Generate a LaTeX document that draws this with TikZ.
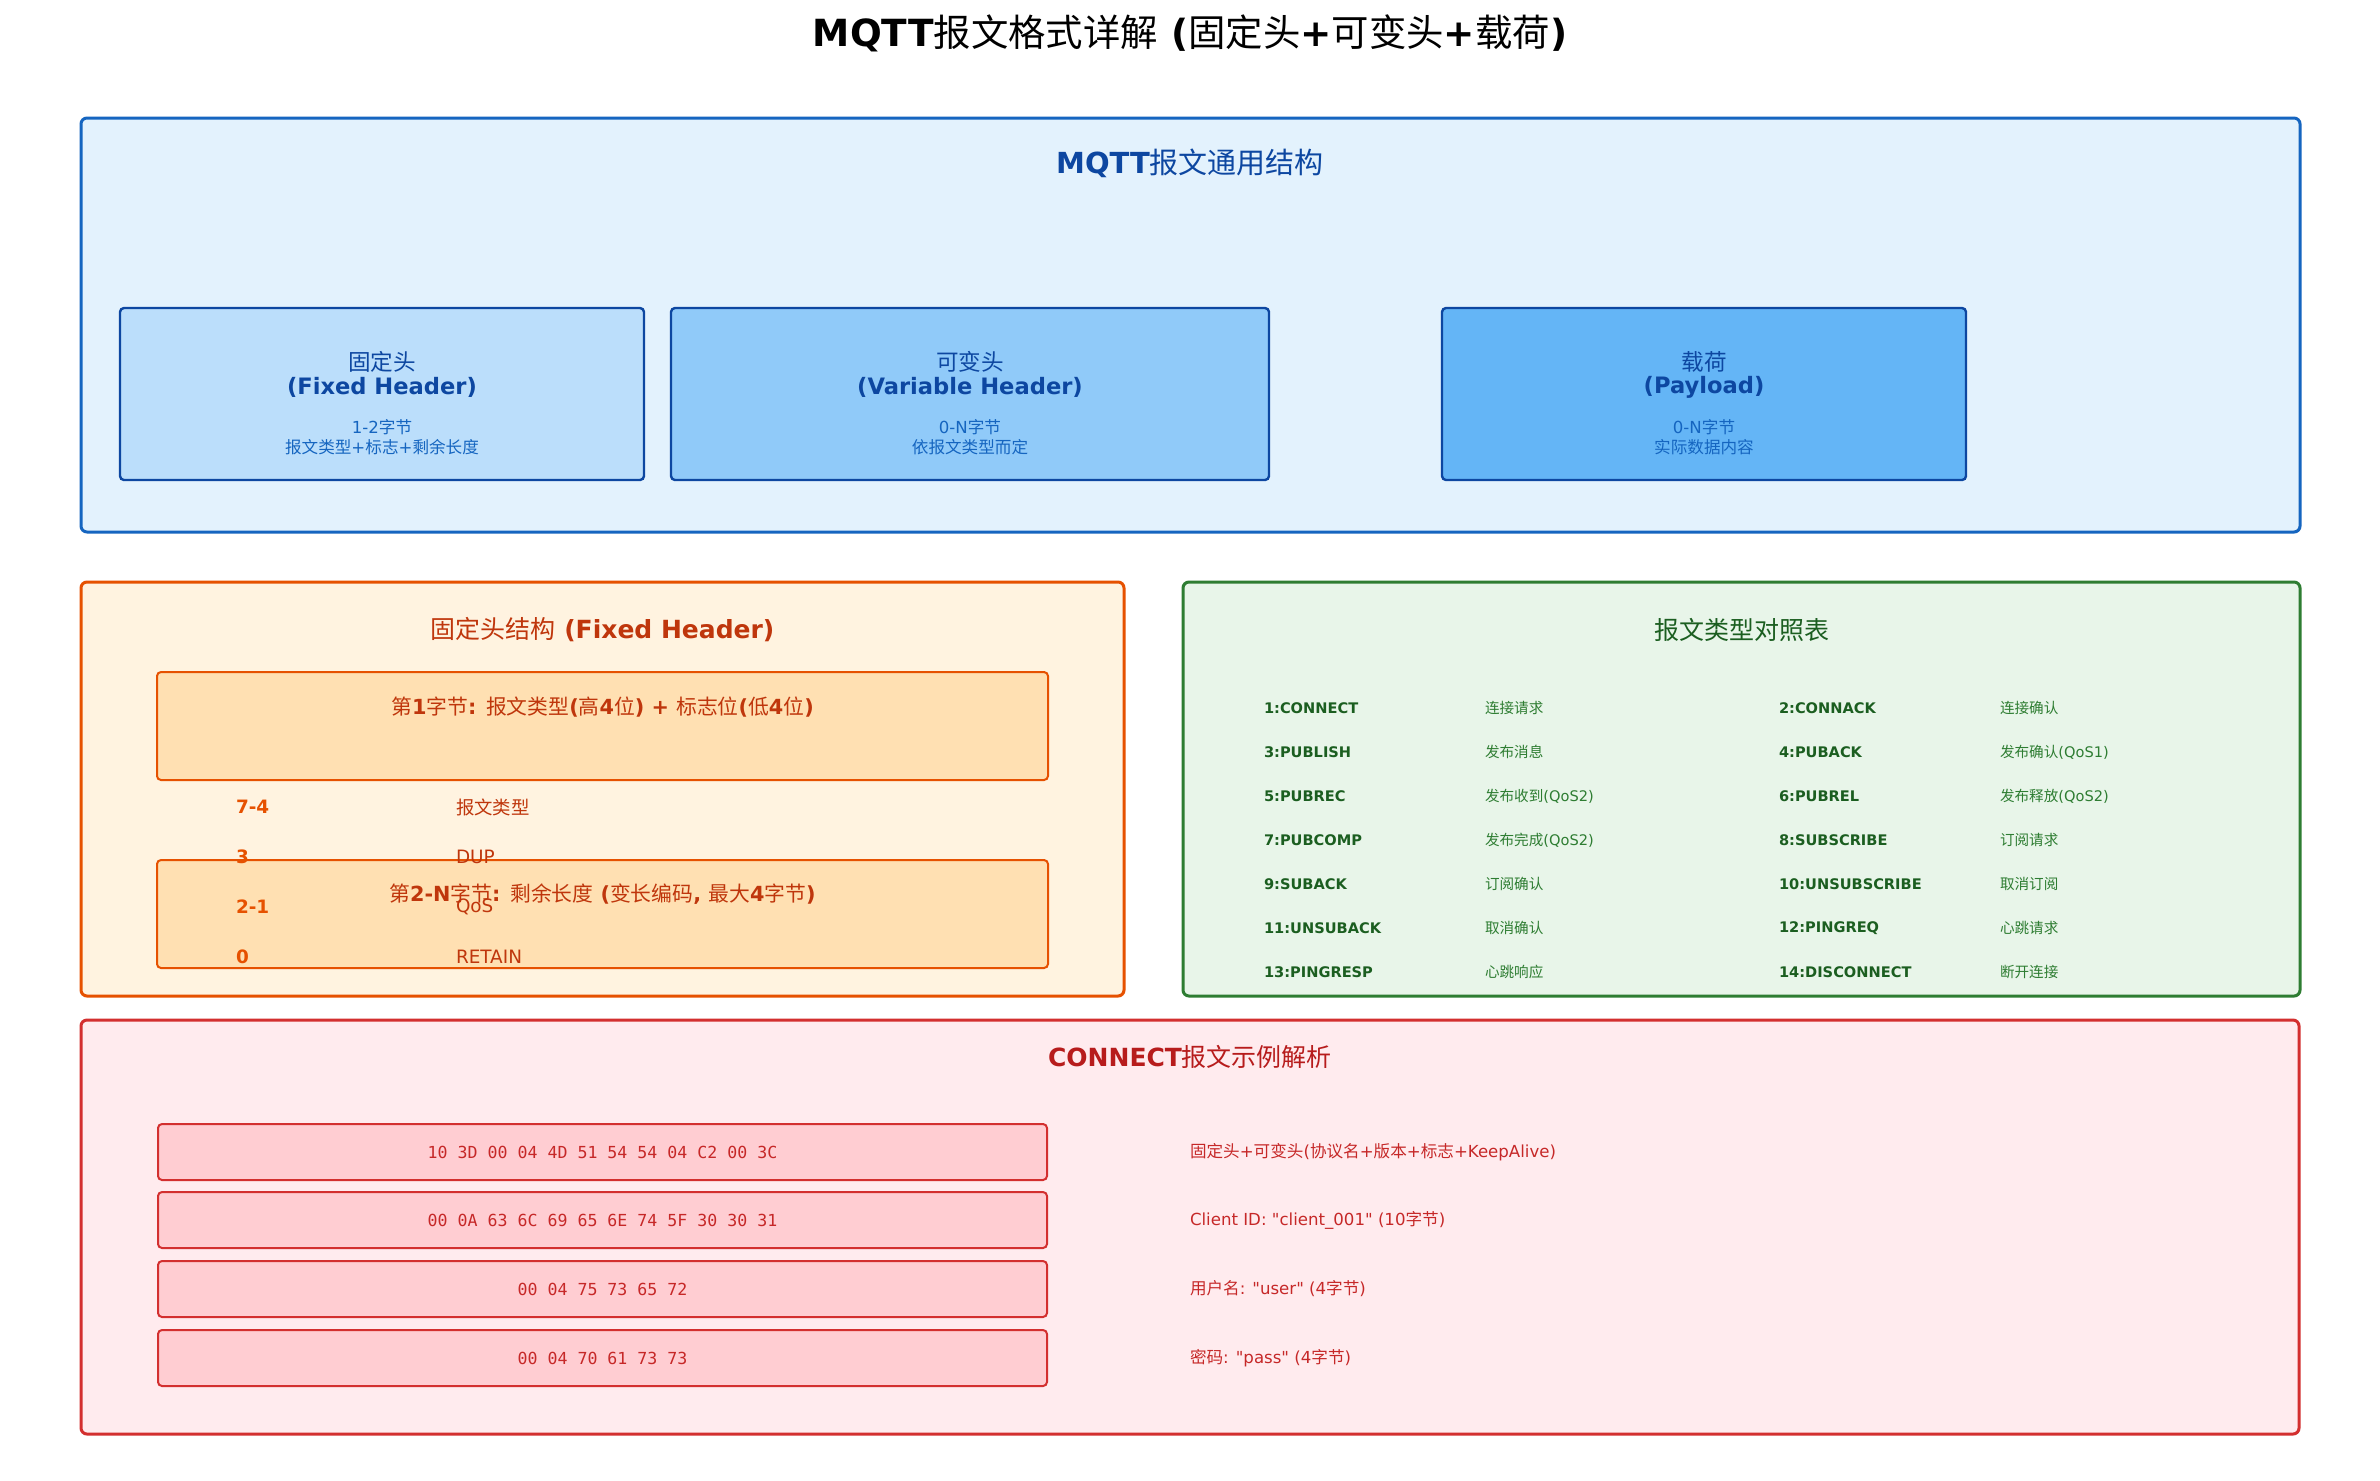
\documentclass[tikz,border=0pt]{standalone}
\usepackage{fontspec}
\setmainfont{DejaVu Sans}
\setmonofont{DejaVu Sans Mono}
\newfontfamily\plainsans{DejaVu Sans}

% --- automatic switch to a CJK font for ideographs ---
\XeTeXinterchartokenstate=1
\newXeTeXintercharclass\zhclass
\newcount\zhcnt
\zhcnt="4E00
\loop
  \XeTeXcharclass\zhcnt=\zhclass
  \ifnum\zhcnt<"9FFF \advance\zhcnt by 1 \repeat
\makeatletter
\def\zhon{\expandafter\let\expandafter\zhsaved\the\font
  \font\zhtmp="Noto Sans CJK SC" at \f@size pt\relax\zhtmp}
\def\zhoff{\zhsaved}
\makeatother
\XeTeXinterchartoks 0 \zhclass = {\zhon}
\XeTeXinterchartoks 4095 \zhclass = {\zhon}
\XeTeXinterchartoks \zhclass 0 = {\zhoff}
\XeTeXinterchartoks \zhclass 4095 = {\zhoff}

\newcommand\fsz[1]{\fontsize{#1}{#1}\selectfont}
\newcommand\sq{{\plainsans\char"22\relax}}

\definecolor{tpfill}{HTML}{E3F2FD}
\definecolor{tpdraw}{HTML}{1565C0}
\definecolor{dblue}{HTML}{0D47A1}
\definecolor{bA}{HTML}{BBDEFB}
\definecolor{bB}{HTML}{90CAF9}
\definecolor{bC}{HTML}{64B5F6}
\definecolor{ofill}{HTML}{FFF3E0}
\definecolor{odraw}{HTML}{E65100}
\definecolor{otext}{HTML}{BF360C}
\definecolor{oinner}{HTML}{FFE0B2}
\definecolor{gfill}{HTML}{E8F5E9}
\definecolor{gdraw}{HTML}{2E7D32}
\definecolor{gdark}{HTML}{1B5E20}
\definecolor{rfill}{HTML}{FFEBEE}
\definecolor{rdraw}{HTML}{D32F2F}
\definecolor{rdark}{HTML}{B71C1C}
\definecolor{rtext}{HTML}{C62828}
\definecolor{rinner}{HTML}{FFCDD2}

\tikzset{
  panel/.style={draw, line width=1.5pt, rounded corners=3pt, inner sep=0pt,
    minimum height=207pt},
  hbox/.style={draw=dblue, line width=1.2pt, rounded corners=2pt, inner sep=0pt,
    minimum width=262pt, minimum height=86pt},
  obox/.style={draw=odraw, fill=oinner, line width=1pt, rounded corners=2pt,
    inner sep=0pt, minimum width=445.5pt, minimum height=54pt},
  hexbox/.style={draw=rdraw, fill=rinner, line width=1pt, rounded corners=2pt,
    inner sep=0pt, minimum width=444.5pt, minimum height=28pt},
  txt/.style={inner sep=0pt, outer sep=0pt},
  htitle/.style={txt, text=dblue, font=\fsz{11.3}\bfseries},
  hsmall/.style={txt, text=tpdraw, font=\fsz{8.3}},
  stitle/.style={txt, font=\fsz{12.5}\bfseries},
  bitn/.style={txt, anchor=west, text=odraw, font=\fsz{9.2}\bfseries},
  bitl/.style={txt, anchor=west, text=otext, font=\fsz{9.2}},
  tname/.style={txt, anchor=west, text=gdark, font=\fsz{7.3}\bfseries},
  tdesc/.style={txt, anchor=west, text=gdraw, font=\fsz{7.3}},
  hex/.style={txt, text=rtext, font=\ttfamily\fsz{8.3}},
  hdesc/.style={txt, anchor=west, text=rtext, font=\fsz{8.3}},
}

\begin{document}
\begin{tikzpicture}[x=0.5pt, y=-0.5pt]
\useasboundingbox (0,0) rectangle (2380,1480);
\fill[white] (0,0) rectangle (2380,1480);

% main title
\node[txt, font=\fsz{18.7}\bfseries] (title) at (1190,33) {MQTT报文格式详解 (固定头+可变头+载荷)};

% ---------- top panel ----------
\node[panel, draw=tpdraw, fill=tpfill, minimum width=1109.5pt] (top) at (1190.5,325) {};
\node[txt, text=dblue, font=\fsz{14.5}\bfseries] (toptitle) at (1190,163) {MQTT报文通用结构};

\node[hbox, fill=bA] (fh) at (382,394) {};
\node[htitle] (fh1) at (382,362) {固定头};
\node[htitle] (fh2) at (382,387) {(Fixed Header)};
\node[hsmall] (fh3) at (382,427) {1-2字节};
\node[hsmall] (fh4) at (382,447) {报文类型+标志+剩余长度};

\node[hbox, fill=bB, minimum width=299pt] (vh) at (970,394) {};
\node[htitle] (vh1) at (970,362) {可变头};
\node[htitle] (vh2) at (970,387) {(Variable Header)};
\node[hsmall] (vh3) at (970,427) {0-N字节};
\node[hsmall] (vh4) at (970,447) {依报文类型而定};

\node[hbox, fill=bC] (pl) at (1704,394) {};
\node[htitle] (pl1) at (1704,362) {载荷};
\node[htitle] (pl2) at (1704,387) {(Payload)};
\node[hsmall] (pl3) at (1704,427) {0-N字节};
\node[hsmall] (pl4) at (1704,447) {实际数据内容};

% ---------- fixed header panel ----------
\node[panel, draw=odraw, fill=ofill, minimum width=521.5pt] (fx) at (602.5,789) {};
\node[stitle, text=otext] (fxtitle) at (602.5,630) {固定头结构 (Fixed Header)};
\node[obox] (byte1) at (602.5,726) {};
\node[txt, text=otext, font=\fsz{10.4}\bfseries] (byte1t) at (602.5,707) {第1字节: 报文类型(高4位) + 标志位(低4位)};
\node[obox] (byte2) at (602.5,914) {};
\node[txt, text=otext, font=\fsz{10.4}\bfseries] (byte2t) at (602.5,894) {第2-N字节: 剩余长度 (变长编码, 最大4字节)};

\node[bitn] (r1a) at (236,807) {7-4};
\node[bitl] (r1b) at (456,807) {报文类型};
\node[bitn] (r2a) at (236,857) {3};
\node[bitl] (r2b) at (456,857) {DUP};
\node[bitn] (r3a) at (236,907) {2-1};
\node[bitl] (r3b) at (456,907) {QoS};
\node[bitn] (r4a) at (236,957) {0};
\node[bitl] (r4b) at (456,957) {RETAIN};

% ---------- packet type table ----------
\node[panel, draw=gdraw, fill=gfill, minimum width=558.5pt] (tb) at (1741.5,789) {};
\node[txt, text=gdark, font=\fsz{12.5}] (tbtitle) at (1741.5,630) {报文类型对照表};

\node[tname] (t1)  at (1264,708) {1:CONNECT};
\node[tdesc] (d1)  at (1485,708) {连接请求};
\node[tname] (t2)  at (1779,708) {2:CONNACK};
\node[tdesc] (d2)  at (2000,708) {连接确认};
\node[tname] (t3)  at (1264,752) {3:PUBLISH};
\node[tdesc] (d3)  at (1485,752) {发布消息};
\node[tname] (t4)  at (1779,752) {4:PUBACK};
\node[tdesc] (d4)  at (2000,752) {发布确认(QoS1)};
\node[tname] (t5)  at (1264,796) {5:PUBREC};
\node[tdesc] (d5)  at (1485,796) {发布收到(QoS2)};
\node[tname] (t6)  at (1779,796) {6:PUBREL};
\node[tdesc] (d6)  at (2000,796) {发布释放(QoS2)};
\node[tname] (t7)  at (1264,840) {7:PUBCOMP};
\node[tdesc] (d7)  at (1485,840) {发布完成(QoS2)};
\node[tname] (t8)  at (1779,840) {8:SUBSCRIBE};
\node[tdesc] (d8)  at (2000,840) {订阅请求};
\node[tname] (t9)  at (1264,884) {9:SUBACK};
\node[tdesc] (d9)  at (1485,884) {订阅确认};
\node[tname] (t10) at (1779,884) {10:UNSUBSCRIBE};
\node[tdesc] (d10) at (2000,884) {取消订阅};
\node[tname] (t11) at (1264,928) {11:UNSUBACK};
\node[tdesc] (d11) at (1485,928) {取消确认};
\node[tname] (t12) at (1779,928) {12:PINGREQ};
\node[tdesc] (d12) at (2000,928) {心跳请求};
\node[tname] (t13) at (1264,972) {13:PINGRESP};
\node[tdesc] (d13) at (1485,972) {心跳响应};
\node[tname] (t14) at (1779,972) {14:DISCONNECT};
\node[tdesc] (d14) at (2000,972) {断开连接};

% ---------- CONNECT example ----------
\node[panel, draw=rdraw, fill=rfill, minimum width=1109pt] (cn) at (1190,1227) {};
\node[stitle, text=rdark] (cntitle) at (1190,1057) {CONNECT报文示例解析};

\node[hexbox] (x1) at (602.5,1152) {};
\node[hex] (x1t) at (602.5,1152) {10 3D 00 04 4D 51 54 54 04 C2 00 3C};
\node[hdesc] (x1d) at (1190,1152) {固定头+可变头(协议名+版本+标志+KeepAlive)};
\node[hexbox] (x2) at (602.5,1220) {};
\node[hex] (x2t) at (602.5,1220) {00 0A 63 6C 69 65 6E 74 5F 30 30 31};
\node[hdesc] (x2d) at (1190,1220) {Client ID: \sq client\_001\sq{} (10字节)};
\node[hexbox] (x3) at (602.5,1289) {};
\node[hex] (x3t) at (602.5,1289) {00 04 75 73 65 72};
\node[hdesc] (x3d) at (1190,1289) {用户名: \sq user\sq{} (4字节)};
\node[hexbox] (x4) at (602.5,1358) {};
\node[hex] (x4t) at (602.5,1358) {00 04 70 61 73 73};
\node[hdesc] (x4d) at (1190,1358) {密码: \sq pass\sq{} (4字节)};
\end{tikzpicture}
\end{document}
